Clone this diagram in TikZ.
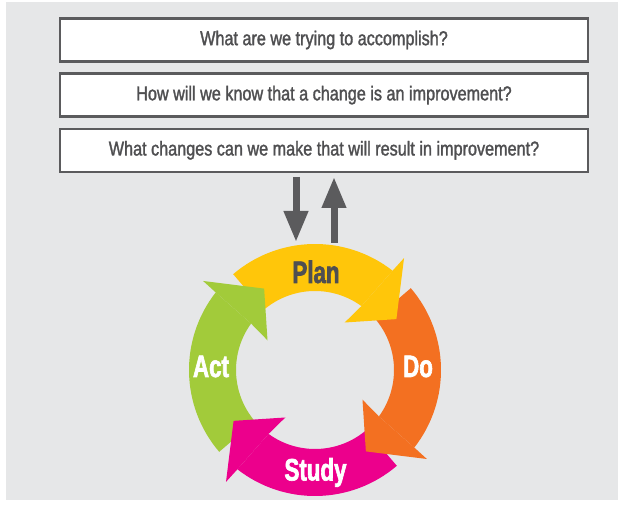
\documentclass[tikz,border=0pt]{standalone}
\usepackage{fontspec}
\setmainfont{Liberation Sans}[FakeStretch=0.81,FakeBold=1.5]
\newfontfamily\labelfont{Liberation Sans}[FakeStretch=0.72,FakeBold=2]
\usetikzlibrary{positioning,arrows.meta}

\definecolor{bggray}{HTML}{E6E7E8}
\definecolor{boxline}{HTML}{5B5B5D}
\definecolor{textgray}{HTML}{4F4F51}
\definecolor{plangold}{HTML}{FFC60A}
\definecolor{doorange}{HTML}{F37021}
\definecolor{studypink}{HTML}{EC008C}
\definecolor{actgreen}{HTML}{A2CB3A}

\tikzset{
  question/.style={draw=boxline,line width=2.4pt,fill=white,minimum width=528pt,
    minimum height=43pt,text=textgray,font=\fontsize{20}{20}\selectfont},
  bigarrow/.style={line width=7pt,draw=boxline,-{Triangle[width=23pt,length=31pt]}},
  steplabel/.style={anchor=base,font=\labelfont\bfseries\fontsize{31}{31}\selectfont}
}

\begin{document}
\begin{tikzpicture}[x=1pt,y=1pt,node distance=9.75pt]
    \useasboundingbox (0,0) rectangle (618,505);
    \fill[bggray] (6,5) rectangle (618,503);

    % the three questions
    \node [question] (q1) at (324,465) {What are we trying to accomplish?};
    \node [question,below=of q1] (q2) {How will we know that a change is an improvement?};
    \node [question,below=of q2] (q3) {What changes can we make that will result in improvement?};

    % down and up
    \coordinate (down top) at (296,328);
    \coordinate (down end) at (296,263);
    \coordinate (up start) at (334,262);
    \coordinate (up end) at (334,328);
    \draw [bigarrow] (down top) -- (down end);
    \draw [bigarrow] (up start) -- (up end);

    % the cycle: bodies first, then heads on top
    \foreach \rot/\col in {0/plangold,-90/doorange,-180/studypink,-270/actgreen}{
        \begin{scope}[shift={(315,135)},rotate=\rot]
            \fill [\col] (130.5:79) -- (130.5:126)
                arc [start angle=130.5,end angle=52,radius=126]
                -- (54:79) arc [start angle=54,end angle=130.5,radius=79] -- cycle;
        \end{scope}
    }
    \foreach \rot/\col in {0/plangold,-90/doorange,-180/studypink,-270/actgreen}{
        \begin{scope}[shift={(315,135)},rotate=\rot]
            \fill [\col] (52:126) -- (51.5:143) -- (32:96) -- (58:56) -- (54:79) -- cycle;
        \end{scope}
    }

    \node [steplabel,text=textgray] (plan) at (316,222) {Plan};
    \node [steplabel,text=white] (do) at (418,128) {Do};
    \node [steplabel,text=white] (study) at (315.5,24.5) {Study};
    \node [steplabel,text=white] (act) at (211,128) {Act};
\end{tikzpicture}
\end{document}
